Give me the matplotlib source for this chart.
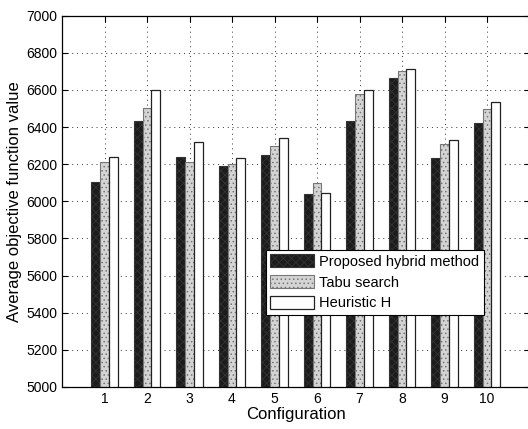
import numpy as np
import matplotlib
matplotlib.use('Agg')
from matplotlib import pyplot as plt

plt.rcParams['font.family'] = ['Liberation Sans', 'DejaVu Sans']
plt.rcParams['hatch.linewidth'] = 0.6

configs = [1, 2, 3, 4, 5, 6, 7, 8, 9, 10]
hybrid = [6102, 6434, 6239, 6192, 6248, 6038, 6433, 6666, 6232, 6422]
tabu = [6210, 6504, 6210, 6199, 6298, 6099, 6577, 6700, 6309, 6497]
heuristic = [6240, 6600, 6321, 6233, 6343, 6043, 6600, 6713, 6332, 6533]
labels = ['Proposed hybrid method', 'Tabu search', 'Heuristic H']

fig = plt.figure(figsize=(5.28, 4.29), dpi=100)
ax = fig.add_axes([62 / 528, 42 / 429, 467.5 / 528, 371.3 / 429])

x = np.array(configs)
w = 0.207
ax.bar(x - w, hybrid, w, color='#1c1c1c', edgecolor='#333333',
       hatch='xxxx', linewidth=0.8, label=labels[0], zorder=2)
ax.bar(x, tabu, w, color='#d4d4d4', edgecolor='#777777',
       hatch='....', linewidth=0.8, label=labels[1], zorder=2)
ax.bar(x + w, heuristic, w, color='white', edgecolor='#222222',
       linewidth=0.9, label=labels[2], zorder=2)

ax.set_xlim(0, 11)
ax.set_ylim(5000, 7000)
ax.set_xticks(configs)
ax.set_yticks(np.arange(5000, 7001, 200))
ax.tick_params(direction='in', top=True, right=True, labelsize=10, length=4)
ax.grid(True, linestyle=(0, (1, 4)), color='#333333', linewidth=0.7, zorder=0)
ax.set_axisbelow(True)
for s in ax.spines.values():
    s.set_linewidth(0.9)

ax.set_xlabel('Configuration', fontsize=12, labelpad=1)
ax.set_ylabel('Average objective function value', fontsize=12, labelpad=3)

leg = ax.legend(loc='upper left', bbox_to_anchor=(0.436, 0.369), borderaxespad=0,
                fontsize=10.5, fancybox=False, framealpha=1, edgecolor='black',
                handlelength=3.0, handleheight=1.0, labelspacing=0.42,
                handletextpad=0.35, borderpad=0.3)
leg.get_frame().set_linewidth(0.8)

fig.savefig('out.png', dpi=100)
